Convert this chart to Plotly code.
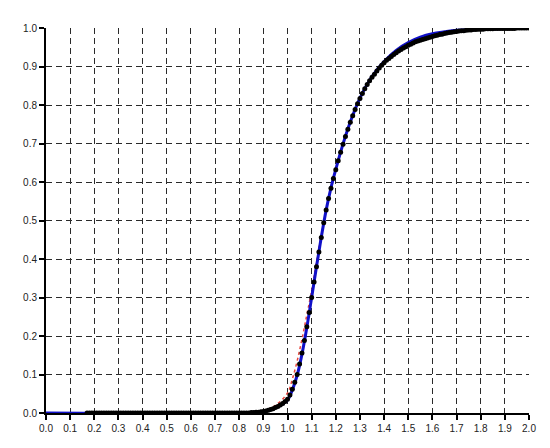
import numpy as np
import plotly.graph_objects as go

# empirical CDF sampled every 0.01 from 0.17 to 2.00
emp_x = np.round(np.arange(0.17, 2.0001, 0.01), 2)
emp_y = [0.0] * 68 + [
    0.001, 0.001, 0.002, 0.002, 0.003, 0.004, 0.005, 0.007, 0.009, 0.011,   # 0.85-0.94
    0.014, 0.017, 0.021, 0.025, 0.030, 0.036, 0.047, 0.062, 0.080, 0.100,   # 0.95-1.04
    0.127, 0.156, 0.188, 0.224, 0.261, 0.300, 0.340, 0.380, 0.418, 0.456,   # 1.05-1.14
    0.494, 0.527, 0.557, 0.584, 0.609, 0.632, 0.655, 0.677, 0.698, 0.718,   # 1.15-1.24
    0.737, 0.755, 0.772, 0.788, 0.803, 0.817, 0.830, 0.842, 0.853, 0.863,   # 1.25-1.34
    0.872, 0.880, 0.888, 0.896, 0.903, 0.910, 0.916, 0.921, 0.926, 0.931,   # 1.35-1.44
    0.936, 0.940, 0.944, 0.948, 0.951, 0.955, 0.958, 0.961, 0.964, 0.966,   # 1.45-1.54
    0.968, 0.970, 0.972, 0.974, 0.976, 0.978, 0.980, 0.981, 0.983, 0.984,   # 1.55-1.64
    0.986, 0.987, 0.988, 0.989, 0.990, 0.991, 0.992, 0.993, 0.993, 0.994,   # 1.65-1.74
    0.995, 0.995, 0.996, 0.996, 0.997, 0.997, 0.997, 0.998, 0.998, 0.998,   # 1.75-1.84
    0.998, 0.999, 0.999, 0.999, 0.999, 0.999, 0.999, 0.999, 0.999, 0.999,   # 1.85-1.94
    1.000, 1.000, 1.000, 1.000, 1.000, 1.000,                               # 1.95-2.00
]

# fitted CDF (blue)
fit_x = [0.0, 0.8, 0.9, 0.95, 1.0, 1.02, 1.04, 1.06, 1.08, 1.10, 1.12, 1.14, 1.16,
         1.18, 1.20, 1.23, 1.26, 1.30, 1.35, 1.40, 1.45, 1.50, 1.55, 1.60, 1.65,
         1.70, 1.80, 1.90, 2.0]
fit_y = [0.0, 0.0, 0.004, 0.013, 0.034, 0.060, 0.098, 0.153, 0.222, 0.300, 0.380,
         0.457, 0.527, 0.585, 0.633, 0.699, 0.756, 0.818, 0.874, 0.913, 0.942,
         0.962, 0.976, 0.985, 0.990, 0.994, 0.997, 0.999, 1.0]

# second fit (red, mostly hidden under the blue one)
alt_x = [0.0, 0.8, 0.9, 0.95, 1.0, 1.02, 1.04, 1.06, 1.08, 1.10, 1.14, 1.20,
         1.30, 1.40, 1.50, 1.60, 1.80, 2.0]
alt_y = [0.0, 0.0, 0.006, 0.020, 0.052, 0.088, 0.135, 0.192, 0.255, 0.318, 0.462,
         0.632, 0.817, 0.911, 0.957, 0.980, 0.997, 1.0]

ticks_x = [round(0.1 * i, 1) for i in range(21)]
ticks_y = [round(0.1 * i, 1) for i in range(11)]

fig = go.Figure()
fig.add_trace(go.Scatter(x=alt_x, y=alt_y, mode="lines", line_shape="spline",
                         line=dict(color="#e8443a", width=1.5, dash="dot")))
fig.add_trace(go.Scatter(x=fit_x, y=fit_y, mode="lines", line_shape="spline",
                         line=dict(color="#1010c8", width=3)))
fig.add_trace(go.Scatter(x=emp_x, y=emp_y, mode="markers",
                         marker=dict(color="black", size=5, line=dict(width=0))))

axis_common = dict(
    showgrid=True, gridcolor="#2a2a2a", gridwidth=1, griddash="6px,4px",
    showline=True, linecolor="black", linewidth=2, zeroline=False,
    ticks="outside", ticklen=5, tickcolor="black", tickwidth=1.5,
    tickformat=".1f", tickfont=dict(family="Liberation Sans, Arial", size=10, color="#222"),
    mirror=False,
)

# the page adds a body margin, so size and margins are trimmed to match
fig.update_layout(
    width=540, height=438,
    margin=dict(l=38, r=14, t=20, b=27),
    plot_bgcolor="white", paper_bgcolor="white",
    showlegend=False,
    xaxis=dict(range=[0, 2.0], tickvals=ticks_x, **axis_common),
    yaxis=dict(range=[0, 1.0], tickvals=ticks_y, **axis_common),
)

fig.write_html("out.html")
